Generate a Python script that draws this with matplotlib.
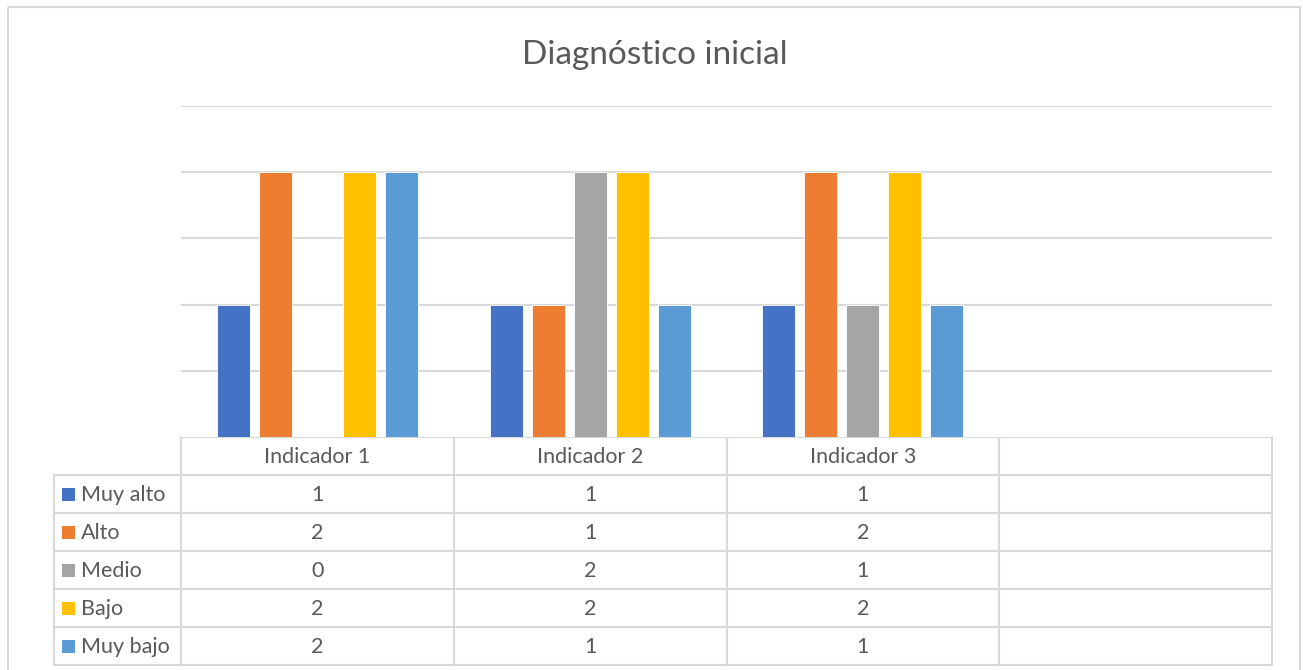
import numpy as np
import matplotlib.pyplot as plt
from matplotlib.patches import Rectangle

# data
categories = ['Indicador 1', 'Indicador 2', 'Indicador 3', '']
series = ['Muy alto', 'Alto', 'Medio', 'Bajo', 'Muy bajo']
muy_alto = [1, 1, 1]
alto = [2, 1, 2]
medio = [0, 2, 1]
bajo = [2, 2, 2]
muy_bajo = [2, 1, 1]
values = [muy_alto, alto, medio, bajo, muy_bajo]
colors = ['#4472C4', '#ED7D31', '#A5A5A5', '#FFC000', '#5B9BD5']

plt.rcParams['font.family'] = ['Lato', 'DejaVu Sans']
txt_color = '#595959'
grid_color = '#d9d9d9'

W, H = 1303, 670
fig = plt.figure(figsize=(W / 100, H / 100), dpi=100)

# pixel-space overlay for frame, title and data table
ov = fig.add_axes([0, 0, 1, 1])
ov.set_xlim(0, W)
ov.set_ylim(H, 0)
ov.axis('off')
ov.add_patch(Rectangle((8, 7), 1292, 700, fill=False, edgecolor=grid_color, lw=1.5))
ov.text(655, 55, 'Diagnóstico inicial', ha='center', va='center',
        fontsize=24, color=txt_color)

# main plot area
left, right, top, bottom = 181, 1272, 106, 437
ax = fig.add_axes([left / W, 1 - bottom / H, (right - left) / W, (bottom - top) / H])
n = len(series)
step = 0.154
width = 0.121
x = np.arange(len(muy_alto))
for i, (name, vals) in enumerate(zip(series, values)):
    ax.bar(x + (i - (n - 1) / 2) * step, vals, width, color=colors[i],
           edgecolor='white', linewidth=0.6, zorder=3)
ax.set_xlim(-0.5, len(categories) - 0.5)
ax.set_ylim(0, 2.5)
ax.set_yticks(np.arange(0.5, 2.6, 0.5))
ax.yaxis.grid(True, color=grid_color, lw=1.5, zorder=0)
ax.tick_params(left=False, bottom=False, labelleft=False, labelbottom=False)
for s in ax.spines.values():
    s.set_visible(False)

# data table
tab_left = 54
row_h = 38
col_w = (right - left) / len(categories)
n_rows = n + 1
lc = grid_color
# horizontal lines
for r in range(n_rows + 1):
    y = bottom + r * row_h
    x0 = left if r == 0 else tab_left
    ov.plot([x0, right], [y, y], color=lc, lw=1.5)
# vertical lines
ov.plot([tab_left, tab_left], [bottom + row_h, bottom + n_rows * row_h], color=lc, lw=1.5)
for c in range(len(categories) + 1):
    xx = left + c * col_w
    ov.plot([xx, xx], [bottom, bottom + n_rows * row_h], color=lc, lw=1.5)

fs = 15.5
for c, cat in enumerate(categories):
    ov.text(left + (c + 0.5) * col_w, bottom + row_h / 2 + 1, cat, ha='center', va='center',
            fontsize=fs, color=txt_color)
for i, (name, vals) in enumerate(zip(series, values)):
    yc = bottom + (i + 1.5) * row_h + 1
    ov.add_patch(Rectangle((62, yc - 7), 13, 13, color=colors[i], lw=0))
    ov.text(81, yc, name, ha='left', va='center', fontsize=fs, color=txt_color)
    for c, v in enumerate(vals):
        ov.text(left + (c + 0.5) * col_w, yc, str(v), ha='center', va='center',
                fontsize=fs, color=txt_color)

fig.savefig('out.png', dpi=100)
